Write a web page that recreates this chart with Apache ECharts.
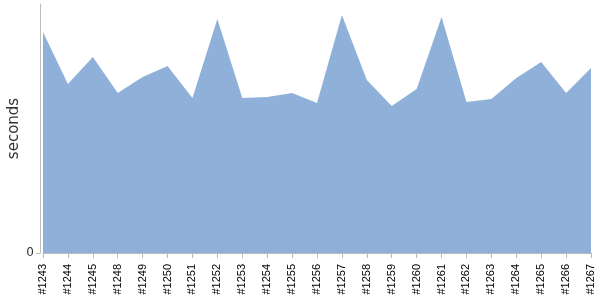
<!DOCTYPE html>
<html>
<head>
<meta charset="utf-8">
<script src="https://cdn.jsdelivr.net/npm/echarts@6/dist/echarts.min.js"></script>
<style>html,body{margin:0;padding:0;background:#fff}#c{width:600px;height:300px}</style>
</head>
<body>
<div id="c"></div>
<script>
const categories = ["#1243","#1244","#1245","#1248","#1249","#1250","#1251","#1252","#1253","#1254","#1255","#1256","#1257","#1258","#1259","#1260","#1261","#1262","#1263","#1264","#1265","#1266","#1267"];
const seconds = [221,169,196,160,176,187,155,234,155,156,160,150,238,173,147,164,236,151,154,175,191,160,185];
const yTicks = [0];

const chart = echarts.init(document.getElementById('c'), null, {renderer:'canvas'});
chart.setOption({
  animation: false,
  grid: {left: 43, right: 9, top: 4, bottom: 47, containLabel: false, outerBoundsMode: 'none'},
  xAxis: {
    type: 'category',
    data: categories,
    boundaryGap: false,
    axisLine: {show: true, lineStyle: {color: '#bbb'}},
    axisTick: {show: true, length: 5, lineStyle: {color: '#bbb'}},
    axisLabel: {rotate: 90, fontSize: 11, color: '#000', margin: 11, fontFamily: 'Liberation Sans', interval: 0}
  },
  yAxis: {
    type: 'value',
    min: 0,
    max: 249,
    offset: 3,
    name: 'seconds',
    nameLocation: 'middle',
    nameGap: 18,
    nameMoveOverlap: false,
    nameTextStyle: {fontSize: 15, color: '#333', fontFamily: 'DejaVu Sans'},
    axisLine: {show: true, lineStyle: {color: '#bbb'}},
    axisTick: {show: true, length: 4, customValues: yTicks, lineStyle: {color: '#bbb'}},
    axisLabel: {customValues: yTicks, fontSize: 12, color: '#333', margin: 6, fontFamily: 'DejaVu Sans'},
    splitLine: {show: false}
  },
  series: [{
    type: 'line',
    data: seconds,
    symbol: 'none',
    lineStyle: {width: 0},
    areaStyle: {color: '#8fb1d9', opacity: 1}
  }]
});
</script>
</body>
</html>
